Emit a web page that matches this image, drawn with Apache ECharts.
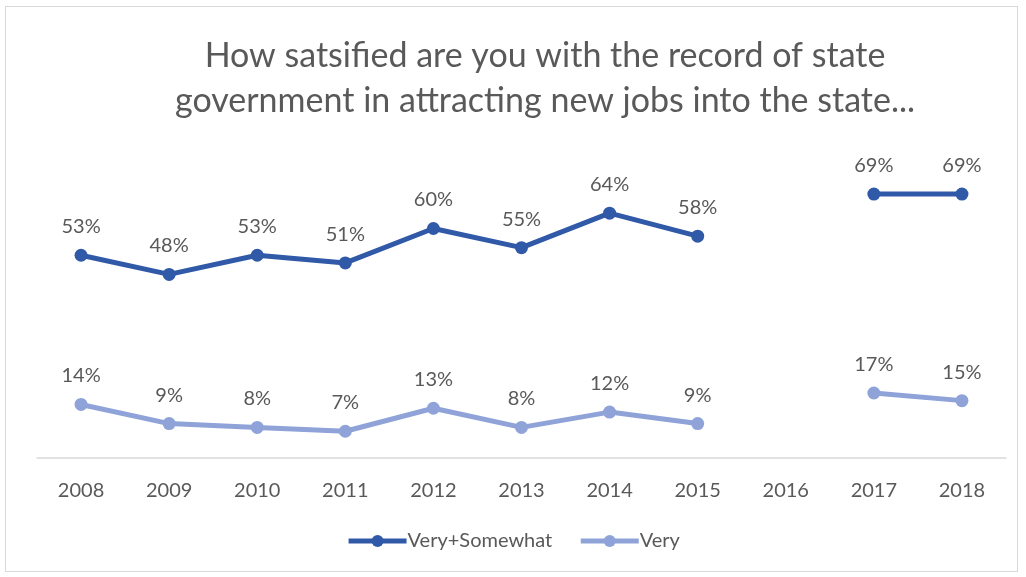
<!DOCTYPE html>
<html>
<head>
<meta charset="utf-8">
<script src="https://cdn.jsdelivr.net/npm/echarts@6/dist/echarts.min.js"></script>
<style>
  html, body { margin: 0; padding: 0; background: #fff; }
  #frame { position: absolute; left: 5px; top: 6px; width: 1013px; height: 566px; border: 1.5px solid #d9d9d9; box-sizing: border-box; }
  #chart { position: absolute; left: 0; top: 0; width: 1026px; height: 577px; }
</style>
</head>
<body>
<div id="frame"></div>
<div id="chart"></div>
<script>
const years = ['2008', '2009', '2010', '2011', '2012', '2013', '2014', '2015', '2016', '2017', '2018'];
const verySomewhat = [53, 48, 53, 51, 60, 55, 64, 58, null, 69, 69];
const very = [14, 9, 8, 7, 13, 8, 12, 9, null, 17, 15];
const seriesNames = ['Very+Somewhat', 'Very'];
const titleText = 'How satsified are you with the record of state\ngovernment in attracting new jobs into the state...';

const FONT = 'Lato, "Open Sans", sans-serif';
const chart = echarts.init(document.getElementById('chart'), null, { renderer: 'canvas' });

function lineSeries(name, data, color) {
  return {
    name: name,
    type: 'line',
    data: data,
    connectNulls: false,
    symbol: 'circle',
    symbolSize: 13,
    lineStyle: { width: 5, color: color },
    itemStyle: { color: color },
    label: {
      show: true,
      position: 'top',
      distance: 12,
      formatter: p => p.value + '%',
      color: '#595959',
      fontSize: 20,
      fontFamily: FONT
    },
    emphasis: { disabled: true },
    animation: false
  };
}

chart.setOption({
  backgroundColor: 'transparent',
  title: {
    text: titleText,
    left: 540,
    textAlign: 'center',
    top: 29,
    textStyle: { color: '#595959', fontSize: 34, fontWeight: 'normal', fontFamily: FONT, lineHeight: 45 }
  },
  legend: {
    bottom: 21,
    left: 'center',
    itemWidth: 58,
    itemHeight: 15,
    itemGap: 26,
    textStyle: { color: '#595959', fontSize: 20, fontFamily: FONT, padding: [0, 0, 0, -4] },
    data: seriesNames.map(n => ({ name: n, lineStyle: { width: 5 } }))
  },
  grid: { left: 37, right: 20, top: 152, bottom: 119 },
  xAxis: {
    type: 'category',
    data: years,
    boundaryGap: true,
    axisLine: { lineStyle: { color: '#d9d9d9', width: 1.5 } },
    axisTick: { show: false },
    axisLabel: { color: '#595959', fontSize: 20, fontFamily: FONT, margin: 23 }
  },
  yAxis: {
    type: 'value',
    min: 0,
    max: 80,
    show: false
  },
  series: [
    lineSeries(seriesNames[0], verySomewhat, '#3059a8'),
    lineSeries(seriesNames[1], very, '#8fa3d8')
  ]
});
</script>
</body>
</html>
